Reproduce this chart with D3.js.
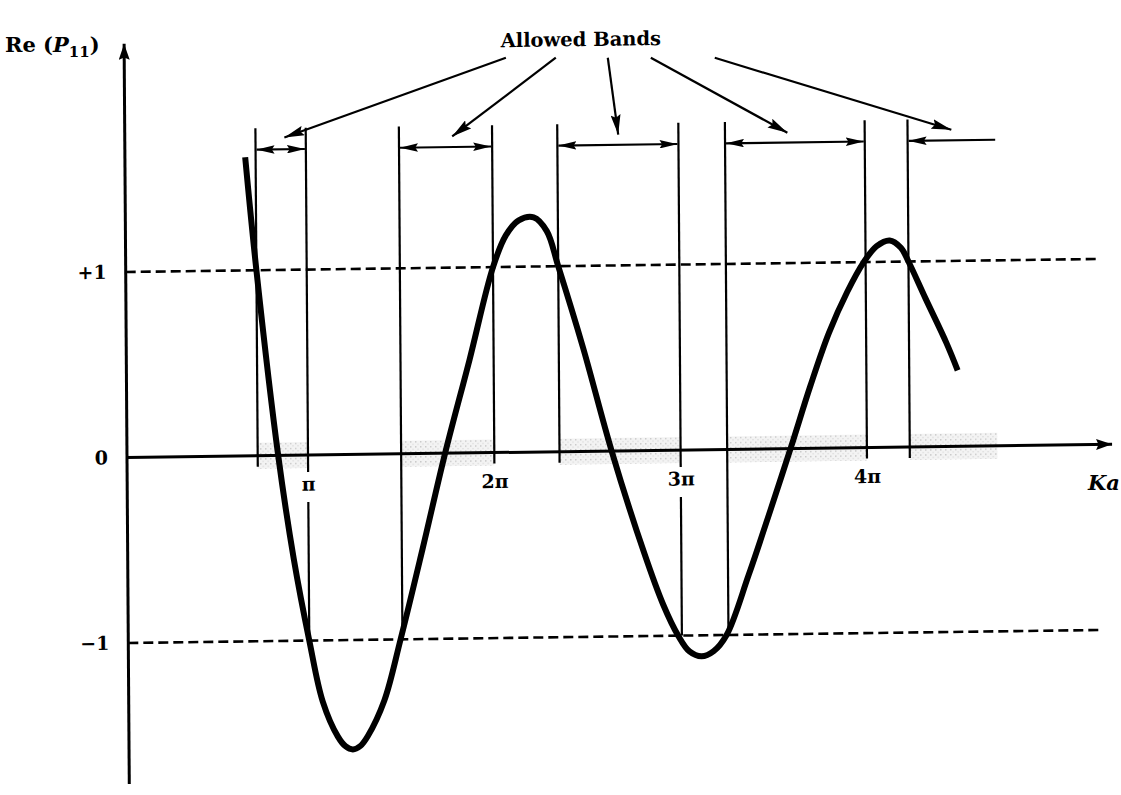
<!DOCTYPE html>
<html>
<head>
<meta charset="utf-8">
<script src="https://cdn.jsdelivr.net/npm/d3@7"></script>
<style>
  html, body { margin: 0; padding: 0; background: #fff; }
  svg { display: block; }
  text { font-family: "DejaVu Serif", serif; fill: #000; }
</style>
</head>
<body>
<svg id="chart" width="1121" height="795"></svg>
<script>
// Re(P11) against Ka (Ka measured in units of π)
const curveKa = [0.674, 0.73, 0.84, 0.92, 1.0, 1.07, 1.15, 1.19, 1.23, 1.27, 1.31, 1.40, 1.49, 1.61,
                 1.736, 1.87, 2.0, 2.07, 2.14, 2.22, 2.29, 2.35, 2.48, 2.63, 2.80, 2.90, 2.98,
                 3.04, 3.105, 3.17, 3.24, 3.36, 3.48, 3.59, 3.70, 3.80, 3.90, 3.99, 4.06,
                 4.13, 4.19, 4.23, 4.32, 4.43, 4.49];
const curveRe = [1.61, 1.0, 0.0, -0.56, -1.0, -1.33, -1.52, -1.572, -1.59, -1.572, -1.52, -1.33, -1.0, -0.52,
                 0.0, 0.50, 1.0, 1.17, 1.25, 1.265, 1.19, 1.0, 0.56, 0.0, -0.55, -0.83, -1.0,
                 -1.086, -1.113, -1.086, -1.0, -0.68, -0.33, 0.0, 0.34, 0.62, 0.84, 1.0, 1.085,
                 1.115, 1.075, 1.0, 0.80, 0.56, 0.41];

// band edges: where the curve leaves the strip -1 ≤ Re(P11) ≤ +1
const edgeKa    = [0.73, 1.0, 1.5, 2.0, 2.35, 3.0, 3.25, 4.0, 4.23];
const edgeLevel = [1, -1, -1, 1, 1, -1, -1, 1, 1];

// allowed bands (the last one runs on past the end of the curve)
const bandStart = [0.73, 1.5, 2.35, 3.25, 4.23];
const bandEnd   = [1.0, 2.0, 3.0, 4.0, 4.70];
const bandOpen  = [false, false, false, false, true];

const kaTicks = [1, 2, 3, 4];
const kaTickLabels = ["π", "2π", "3π", "4π"];
const reTicks = [1, 0, -1];
const reTickLabels = ["+1", "0", "−1"];
const boundLevels = [1, -1];

// "Allowed Bands" call-out arrows (tail → head)
const calloutFromKa = [2.077, 2.345, 2.624, 2.855, 3.198];
const calloutFromRe = [2.127, 2.124, 2.120, 2.117, 2.112];
const calloutToKa   = [0.885, 1.786, 2.677, 3.585, 4.465];
const calloutToRe   = [1.714, 1.707, 1.705, 1.703, 1.707];

const svg = d3.select("#chart");
svg.append("rect").attr("width", 1121).attr("height", 795).attr("fill", "#fff");

const axisX = 127;
const x = d3.scaleLinear().domain([0, 5.3]).range([121.7, 121.7 + 5.3 * 186.3]);
const y = d3.scaleLinear().domain([-1, 1]).range([643, 272]);

const defs = svg.append("defs");
function head(id, len, wid) {
  defs.append("marker")
    .attr("id", id)
    .attr("viewBox", `0 0 ${len} ${wid}`)
    .attr("refX", len).attr("refY", wid / 2)
    .attr("markerWidth", len).attr("markerHeight", wid)
    .attr("markerUnits", "userSpaceOnUse")
    .attr("orient", "auto-start-reverse")
    .append("path")
    .attr("d", `M0,0 L${len},${wid / 2} L0,${wid} L${len * 0.15},${wid / 2} Z`)
    .attr("fill", "#000");
}
head("bandHead", 18, 8.5);
head("calloutHead", 20, 10);
head("axisHead", 16, 11);

// screen-tone for the band strip along the axis
const tone = defs.append("pattern").attr("id", "tone")
  .attr("width", 5).attr("height", 5).attr("patternUnits", "userSpaceOnUse");
tone.append("rect").attr("width", 5).attr("height", 5).attr("fill", "#f3f3f3");
tone.append("rect").attr("x", 0).attr("y", 0).attr("width", 1.4).attr("height", 1.4).attr("fill", "#c8c8c8");
tone.append("rect").attr("x", 2.5).attr("y", 2.5).attr("width", 1.2).attr("height", 1.2).attr("fill", "#d6d6d6");

// the whole drawing sits slightly skewed on the page
const sx = 0.007, sy = 0.0134, ox = axisX, oy = y(0);
const g = svg.append("g")
  .attr("transform", `matrix(1,${-sy},${sx},1,${-sx * oy},${sy * ox})`);

// shaded allowed bands on the Ka axis
g.append("g").selectAll("rect")
  .data(d3.range(bandStart.length))
  .join("rect")
  .attr("x", i => x(bandStart[i]))
  .attr("width", i => x(bandEnd[i]) - x(bandStart[i]))
  .attr("y", y(0) - 13)
  .attr("height", 26)
  .attr("fill", "url(#tone)");

// ±1 dashed bounds
g.append("g").selectAll("line")
  .data(boundLevels)
  .join("line")
  .attr("x1", axisX).attr("x2", x(5.24))
  .attr("y1", d => y(d)).attr("y2", d => y(d))
  .attr("stroke", "#000").attr("stroke-width", 2.6)
  .attr("stroke-dasharray", "10,5");

// band edge verticals
g.append("g").selectAll("line")
  .data(d3.range(edgeKa.length))
  .join("line")
  .attr("x1", i => x(edgeKa[i])).attr("x2", i => x(edgeKa[i]))
  .attr("y1", y(1.765))
  .attr("y2", i => edgeLevel[i] < 0 ? y(-1) : y(0) + 11)
  .attr("stroke", "#000").attr("stroke-width", 2.2);

// Ka axis
g.append("line")
  .attr("x1", axisX).attr("x2", x(5.316))
  .attr("y1", y(0)).attr("y2", y(0))
  .attr("stroke", "#000").attr("stroke-width", 3)
  .attr("marker-end", "url(#axisHead)");

// Re(P11) axis
g.append("line")
  .attr("x1", axisX).attr("x2", axisX)
  .attr("y1", y(-1.76)).attr("y2", y(2.23))
  .attr("stroke", "#000").attr("stroke-width", 3)
  .attr("marker-end", "url(#axisHead)");

// tick labels on the Ka axis
const kaAxis = g.append("g")
  .attr("transform", `translate(0,${y(0)})`)
  .call(d3.axisBottom(x).tickValues(kaTicks).tickSize(0).tickPadding(22)
        .tickFormat((d, i) => kaTickLabels[i]));
kaAxis.select(".domain").remove();
kaAxis.selectAll("text")
  .attr("font-family", "DejaVu Serif, serif")
  .attr("font-size", 19)
  .attr("font-weight", "bold")
  .attr("fill", "#000");
kaAxis.selectAll(".tick").insert("rect", "text")
  .attr("x", -15).attr("width", 30)
  .attr("y", 17).attr("height", 30)
  .attr("fill", "#fff");

// tick labels on the Re(P11) axis
const reAxis = g.append("g")
  .attr("transform", `translate(${axisX},0)`)
  .call(d3.axisLeft(y).tickValues(reTicks).tickSize(0).tickPadding(19)
        .tickFormat((d, i) => reTickLabels[i]));
reAxis.select(".domain").remove();
reAxis.selectAll("text")
  .attr("font-family", "DejaVu Serif, serif")
  .attr("font-size", 19)
  .attr("font-weight", "bold")
  .attr("fill", "#000");

// the curve
const line = d3.line()
  .x(i => x(curveKa[i]))
  .y(i => y(curveRe[i]))
  .curve(d3.curveCatmullRom.alpha(0.5));
g.append("path")
  .attr("d", line(d3.range(curveKa.length)))
  .attr("fill", "none")
  .attr("stroke", "#000")
  .attr("stroke-width", 6)
  .attr("stroke-linejoin", "round");

// band width arrows
g.append("g").selectAll("line")
  .data(d3.range(bandStart.length))
  .join("line")
  .attr("x1", i => x(bandStart[i]) + 1).attr("x2", i => bandOpen[i] ? x(bandEnd[i]) : x(bandEnd[i]) - 1)
  .attr("y1", y(1.65)).attr("y2", y(1.65))
  .attr("stroke", "#000").attr("stroke-width", 2.2)
  .attr("marker-start", "url(#bandHead)")
  .attr("marker-end", (d, i) => bandOpen[i] ? null : "url(#bandHead)");

// call-out arrows
g.append("g").selectAll("line")
  .data(d3.range(calloutFromKa.length))
  .join("line")
  .attr("x1", i => x(calloutFromKa[i])).attr("y1", i => y(calloutFromRe[i]))
  .attr("x2", i => x(calloutToKa[i])).attr("y2", i => y(calloutToRe[i]))
  .attr("stroke", "#000").attr("stroke-width", 2.2)
  .attr("marker-end", "url(#calloutHead)");

g.append("text")
  .attr("x", x(2.48)).attr("y", y(2.22))
  .attr("text-anchor", "middle").attr("dominant-baseline", "central")
  .attr("font-size", 19.5).attr("font-weight", "bold")
  .text("Allowed Bands");

// axis titles
const yTitle = svg.append("text")
  .attr("x", 5).attr("y", 52)
  .attr("font-size", 21).attr("font-weight", "bold");
yTitle.append("tspan").text("Re (");
yTitle.append("tspan").attr("font-style", "italic").text("P");
yTitle.append("tspan").attr("font-size", 15).attr("dy", 5).text("11");
yTitle.append("tspan").attr("dy", -5).text(")");

svg.append("text")
  .attr("x", 1088).attr("y", 490)
  .attr("font-size", 21).attr("font-weight", "bold").attr("font-style", "italic")
  .text("Ka");
</script>
</body>
</html>
